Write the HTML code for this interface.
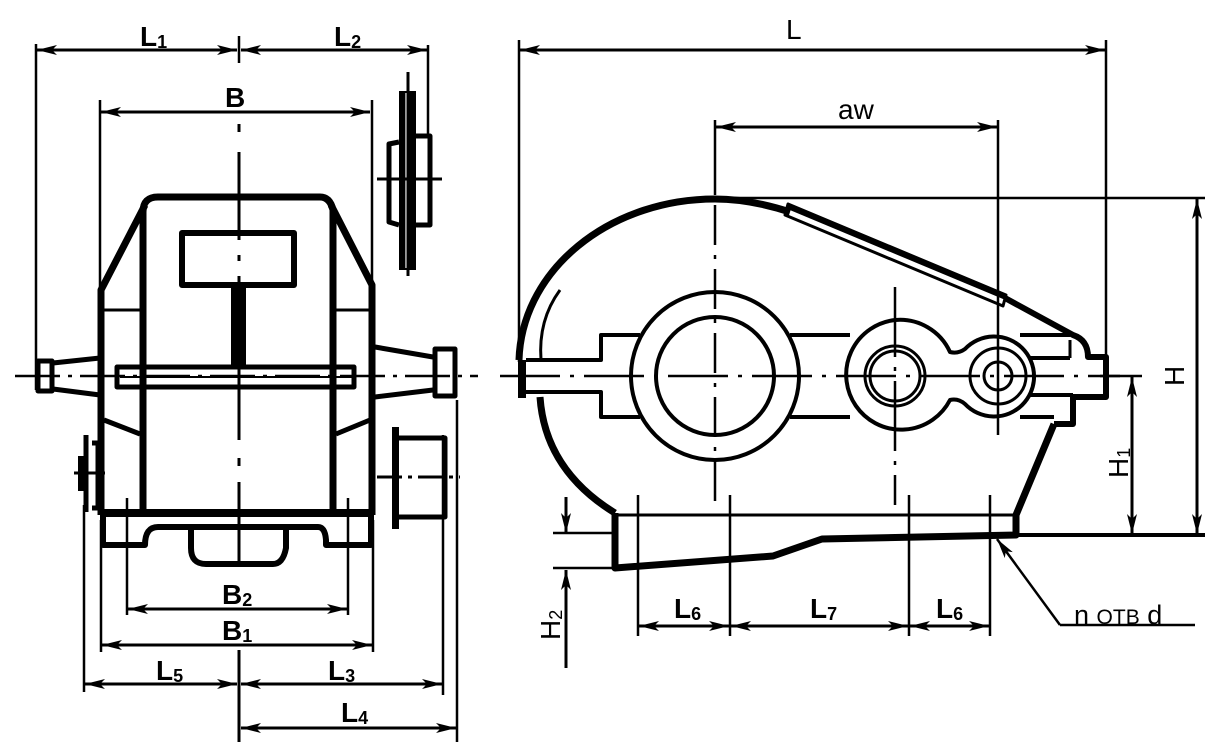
<!DOCTYPE html>
<html><head><meta charset="utf-8"><style>
html,body{margin:0;padding:0;background:#fff;}
svg{display:block;}
text{font-family:"Liberation Sans",sans-serif;fill:#000;}
</style></head><body>
<svg width="1228" height="746" viewBox="0 0 1228 746" xmlns="http://www.w3.org/2000/svg">
<defs>
<marker id="a" viewBox="0 0 20 10" refX="20" refY="5" markerWidth="20" markerHeight="10" markerUnits="userSpaceOnUse" orient="auto-start-reverse">
<path d="M0,0 L20,5 L0,10 L5,5 Z" fill="#000"/></marker>
</defs>
<g fill="none" stroke="#000" stroke-linejoin="round">

<!-- ============ LEFT VIEW ============ -->
<g stroke-width="3">
<line x1="37" y1="50" x2="237" y2="50" marker-start="url(#a)" marker-end="url(#a)"/>
<line x1="241" y1="50" x2="427" y2="50" marker-start="url(#a)" marker-end="url(#a)"/>
<line x1="101" y1="112" x2="370" y2="112" marker-start="url(#a)" marker-end="url(#a)"/>
</g>
<g stroke-width="2.5">
<line x1="36" y1="44" x2="36" y2="390"/>
<line x1="428" y1="45" x2="428" y2="135"/>
<line x1="239" y1="36" x2="239" y2="63"/>
<line x1="100" y1="100" x2="100" y2="290"/>
<line x1="372" y1="100" x2="372" y2="282"/>
</g>
<line x1="239" y1="124" x2="239" y2="132" stroke-width="3"/>
<line x1="239" y1="152" x2="239" y2="240" stroke-width="3"/>
<line x1="239" y1="255" x2="239" y2="261" stroke-width="3"/>
<line x1="239" y1="276" x2="239" y2="440" stroke-width="3"/>
<line x1="239" y1="458" x2="239" y2="466" stroke-width="3"/>
<line x1="239" y1="482" x2="239" y2="565" stroke-width="3"/>
<line x1="239" y1="650" x2="239" y2="742" stroke-width="3"/>

<path d="M143,510 V212 Q143,197 158,197 H320 Q330,197 333,210 V510" stroke-width="7"/>
<path d="M145,205 L101,290 V515" stroke-width="7"/>
<path d="M331,205 L372,285 V515" stroke-width="7"/>
<line x1="104" y1="310" x2="140" y2="310" stroke-width="3"/>
<line x1="336" y1="310" x2="370" y2="310" stroke-width="3"/>
<path d="M104,420 L140,434" stroke-width="5"/>
<path d="M336,434 L370,420" stroke-width="5"/>
<rect x="182" y="233" width="112" height="52" stroke-width="6"/>
<rect x="231" y="287" width="15" height="78" fill="#000" stroke="none"/>
<rect x="117" y="367" width="237" height="20" stroke-width="5"/>
<line x1="120" y1="377" x2="352" y2="377" stroke-width="2"/>
<line x1="15" y1="376" x2="478" y2="376" stroke-width="2.5" stroke-dasharray="45,8,4,8"/>
<rect x="38" y="361" width="14" height="30" stroke-width="5"/>
<path d="M53,363 L100,358 M53,389 L100,395" stroke-width="5"/>
<path d="M375,347 L433,357 M375,397 L433,390" stroke-width="5"/>
<rect x="435" y="349" width="20" height="47" stroke-width="5"/>
<rect x="399" y="91" width="17" height="179" fill="#000" stroke="none"/>
<line x1="406" y1="93" x2="406" y2="268" stroke="#fff" stroke-width="1.2"/>
<line x1="408" y1="72" x2="408" y2="276" stroke-width="3"/>
<path d="M416,136 H430 V225 H416 M399,142 L389,144 V222 L399,225" stroke-width="5"/>
<line x1="377" y1="179" x2="442" y2="179" stroke-width="3"/>
<path d="M101,513 H373" stroke-width="8"/>
<path d="M103,513 V545 H145 Q145,527 158,527 H318 Q325,527 326,540 V545 H371 V513" stroke-width="6"/>
<path d="M191,530 V548 Q191,564 206,564 H273 Q283,564 286,548 V530" stroke-width="6"/>
<line x1="127" y1="498" x2="127" y2="615" stroke-width="2.5"/>
<line x1="348" y1="498" x2="348" y2="615" stroke-width="2.5"/>
<path d="M86,435 V512 M92,443 H98 V508 H92" stroke-width="5"/>
<rect x="78" y="456" width="7" height="35" fill="#000" stroke="none"/>
<line x1="74" y1="473" x2="105" y2="473" stroke-width="3"/>
<rect x="392" y="427" width="7" height="102" fill="#000" stroke="none"/>
<path d="M399,438 H445 V517 H399" stroke-width="5"/>
<line x1="377" y1="477" x2="460" y2="477" stroke-width="3" stroke-dasharray="25,6,4,6"/>
<g stroke-width="2.5">
<line x1="84" y1="505" x2="84" y2="692"/>
<line x1="101" y1="520" x2="101" y2="652"/>
<line x1="373" y1="520" x2="373" y2="652"/>
<line x1="443" y1="435" x2="443" y2="695"/>
<line x1="457" y1="400" x2="457" y2="742"/>
</g>
<g stroke-width="3">
<line x1="128" y1="609" x2="347" y2="609" marker-start="url(#a)" marker-end="url(#a)"/>
<line x1="102" y1="645" x2="372" y2="645" marker-start="url(#a)" marker-end="url(#a)"/>
<line x1="85" y1="684" x2="237" y2="684" marker-start="url(#a)" marker-end="url(#a)"/>
<line x1="241" y1="684" x2="442" y2="684" marker-start="url(#a)" marker-end="url(#a)"/>
<line x1="241" y1="728" x2="456" y2="728" marker-start="url(#a)" marker-end="url(#a)"/>
</g>

<!-- ============ RIGHT VIEW ============ -->
<g stroke-width="3">
<line x1="520" y1="50" x2="1105" y2="50" marker-start="url(#a)" marker-end="url(#a)"/>
<line x1="716" y1="127" x2="997" y2="127" marker-start="url(#a)" marker-end="url(#a)"/>
<line x1="1197" y1="199" x2="1197" y2="534" marker-start="url(#a)" marker-end="url(#a)"/>
<line x1="1132" y1="377" x2="1132" y2="534" marker-start="url(#a)" marker-end="url(#a)"/>
<line x1="639" y1="626" x2="729" y2="626" marker-start="url(#a)" marker-end="url(#a)"/>
<line x1="731" y1="626" x2="908" y2="626" marker-start="url(#a)" marker-end="url(#a)"/>
<line x1="910" y1="626" x2="989" y2="626" marker-start="url(#a)" marker-end="url(#a)"/>
<line x1="566" y1="497" x2="566" y2="533" marker-end="url(#a)"/>
<line x1="566" y1="668" x2="566" y2="570" marker-end="url(#a)"/>
</g>
<g stroke-width="2.5">
<line x1="519" y1="40" x2="519" y2="362"/>
<line x1="1106" y1="40" x2="1106" y2="360"/>
<line x1="715" y1="120" x2="715" y2="195"/>
<line x1="998" y1="120" x2="998" y2="300"/>
<line x1="715" y1="198" x2="1205" y2="198"/>
<line x1="1100" y1="376" x2="1142" y2="376"/>
<line x1="1014" y1="535" x2="1205" y2="535" stroke-width="4"/>
<line x1="553" y1="533" x2="615" y2="533"/>
<line x1="553" y1="568" x2="615" y2="568"/>
<line x1="638" y1="495" x2="638" y2="636"/>
<line x1="730" y1="495" x2="730" y2="636"/>
<line x1="909" y1="495" x2="909" y2="636"/>
<line x1="990" y1="495" x2="990" y2="636"/>
</g>
<path d="M519,360 A196,165 0 0 1 715,199 Q750,199 790,212" stroke-width="7"/>
<path d="M560,290 Q538,320 541,360" stroke-width="3"/>
<path d="M540,397 Q545,470 615,513" stroke-width="7"/>
<rect x="518" y="360" width="8" height="38" fill="#000" stroke="none"/>
<path d="M615,513 V568 L773,556 L822,539 L1016,535 V515 L1054,424" stroke-width="7"/>
<line x1="615" y1="515" x2="1014" y2="515" stroke-width="3"/>
<path d="M1054,424 H1073 V397 H1106 V357 H1088 Q1088,340 1073,335 L1005,298" stroke-width="6"/>
<path d="M788,204 L1006,295 L1003,306 L785,215 Z" stroke-width="3"/>
<line x1="788" y1="206" x2="1006" y2="297" stroke-width="6"/>
<path d="M1070,340 V358" stroke-width="3"/>
<path d="M526,360 H601 V335 H640 M790,335 H850 M1020,335 H1070" stroke-width="4"/>
<path d="M526,392 H601 V417 H640 M790,417 H850 M1020,417 H1054" stroke-width="4"/>
<path d="M1030,358 H1070 M1030,395 H1073" stroke-width="4"/>
<circle cx="715" cy="376" r="84" stroke-width="4"/>
<circle cx="715" cy="376" r="59" stroke-width="4"/>
<path d="M895,320 A55,55 0 1 0 950,400 Q958,398 965,404 A40,40 0 1 0 965,349 Q958,354 950,352 A55,55 0 0 0 895,320" stroke-width="4"/>
<circle cx="895" cy="376" r="30" stroke-width="3"/>
<circle cx="895" cy="376" r="25" stroke-width="3"/>
<circle cx="998" cy="376" r="28" stroke-width="3"/>
<circle cx="998" cy="376" r="14" stroke-width="3"/>
<line x1="500" y1="376" x2="1120" y2="376" stroke-width="2.5" stroke-dasharray="60,10,4,10"/>
<line x1="715" y1="205" x2="715" y2="505" stroke-width="2.5" stroke-dasharray="40,10,4,10"/>
<line x1="895" y1="287" x2="895" y2="505" stroke-width="2.5" stroke-dasharray="70,10,4,10"/>
<line x1="998" y1="300" x2="998" y2="435" stroke-width="2.5"/>
<line x1="1060" y1="625" x2="997" y2="539" stroke-width="2.5" marker-end="url(#a)"/>
<line x1="1060" y1="625" x2="1195" y2="625" stroke-width="2.5"/>
</g>

<g font-size="28">
<g font-weight="bold">
<text x="140" y="46">L<tspan font-size="18" dy="2">1</tspan></text>
<text x="334" y="46">L<tspan font-size="18" dy="2">2</tspan></text>
<text x="225" y="107">B</text>
<text x="222" y="604">B<tspan font-size="18" dy="2">2</tspan></text>
<text x="222" y="640">B<tspan font-size="18" dy="2">1</tspan></text>
<text x="156" y="680">L<tspan font-size="18" dy="2">5</tspan></text>
<text x="328" y="680">L<tspan font-size="18" dy="2">3</tspan></text>
<text x="341" y="722">L<tspan font-size="18" dy="2">4</tspan></text>
<text x="674" y="618">L<tspan font-size="18" dy="2">6</tspan></text>
<text x="810" y="618">L<tspan font-size="18" dy="2">7</tspan></text>
<text x="936" y="618">L<tspan font-size="18" dy="2">6</tspan></text>
</g>
<text x="786" y="39">L</text>
<text x="838" y="119">aw</text>
<text x="1074" y="624" font-size="27">n <tspan font-size="21">ОТВ</tspan> d</text>
<text transform="translate(1184,386) rotate(-90)">H</text>
<text transform="translate(1128,478) rotate(-90)">H<tspan font-size="18" dy="2">1</tspan></text>
<text transform="translate(560,640) rotate(-90)">H<tspan font-size="18" dy="2">2</tspan></text>
</g>
</svg>
</body></html>
